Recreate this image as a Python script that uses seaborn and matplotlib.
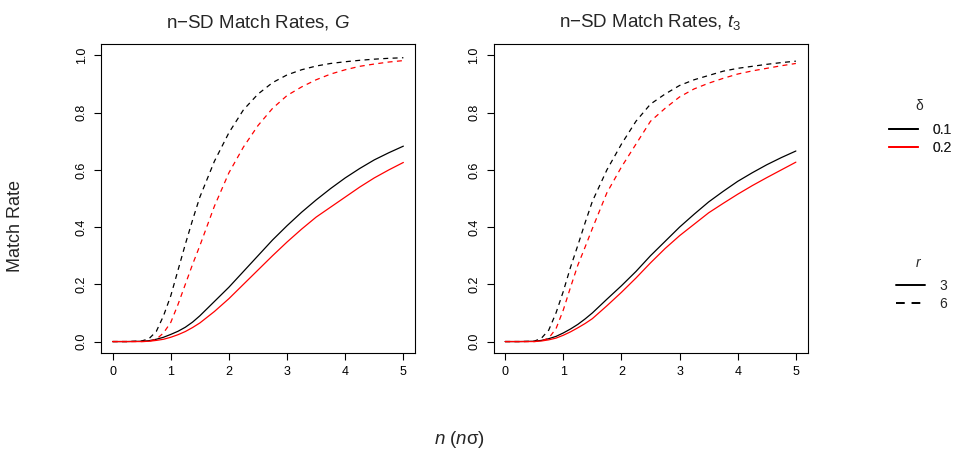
import numpy as np
import pandas as pd
import matplotlib
matplotlib.use("Agg")
import matplotlib.pyplot as plt
from matplotlib.lines import Line2D
import seaborn as sns

# ---- data ----
n_sd = [0, 0.25, 0.5, 0.625, 0.75, 0.875, 1.0, 1.125, 1.25, 1.375, 1.5,
        1.75, 2.0, 2.25, 2.5, 2.75, 3.0, 3.25, 3.5, 3.75, 4.0, 4.25, 4.5,
        4.75, 5.0]

# Panel G
g_d01_r3 = [0, 0, 0.001, 0.003, 0.008, 0.015, 0.025, 0.036, 0.05, 0.068, 0.09,
            0.14, 0.19, 0.245, 0.30, 0.355, 0.405, 0.452, 0.495, 0.535, 0.572,
            0.605, 0.635, 0.66, 0.683]
g_d02_r3 = [0, 0, 0.0, 0.001, 0.004, 0.008, 0.015, 0.024, 0.035, 0.049, 0.065,
            0.105, 0.15, 0.20, 0.25, 0.30, 0.348, 0.393, 0.435, 0.47, 0.505,
            0.54, 0.572, 0.60, 0.626]
g_d01_r6 = [0, 0, 0.002, 0.01, 0.035, 0.09, 0.16, 0.25, 0.34, 0.425, 0.505,
            0.63, 0.73, 0.81, 0.865, 0.905, 0.932, 0.95, 0.963, 0.972, 0.978,
            0.983, 0.987, 0.99, 0.992]
g_d02_r6 = [0, 0, 0.0, 0.001, 0.008, 0.03, 0.067, 0.13, 0.20, 0.27, 0.335,
            0.473, 0.59, 0.68, 0.755, 0.815, 0.86, 0.89, 0.915, 0.935, 0.95,
            0.962, 0.97, 0.977, 0.982]

# Panel t3
t_d01_r3 = [0, 0, 0.001, 0.004, 0.01, 0.018, 0.03, 0.044, 0.06, 0.079, 0.10,
            0.148, 0.195, 0.245, 0.30, 0.35, 0.40, 0.445, 0.488, 0.525, 0.56,
            0.59, 0.618, 0.643, 0.666]
t_d02_r3 = [0, 0, 0.0, 0.002, 0.006, 0.012, 0.022, 0.034, 0.048, 0.063, 0.08,
            0.125, 0.172, 0.222, 0.275, 0.325, 0.37, 0.41, 0.45, 0.483, 0.515,
            0.545, 0.573, 0.60, 0.627]
t_d01_r6 = [0, 0, 0.001, 0.012, 0.04, 0.10, 0.175, 0.26, 0.336, 0.415, 0.49,
            0.60, 0.69, 0.77, 0.83, 0.865, 0.895, 0.915, 0.93, 0.945, 0.955,
            0.962, 0.969, 0.975, 0.98]
t_d02_r6 = [0, 0, 0.0, 0.002, 0.012, 0.045, 0.11, 0.19, 0.267, 0.33, 0.395,
            0.52, 0.61, 0.69, 0.77, 0.815, 0.855, 0.883, 0.903, 0.92, 0.935,
            0.946, 0.955, 0.964, 0.972]

panels = ["G", "t3"]
deltas = ["0.1", "0.2"]
r_values = ["3", "6"]
titles = ["n\u2212SD Match Rates, $G$", "n\u2212SD Match Rates, $t_3$"]
y_ticks = [0.0, 0.2, 0.4, 0.6, 0.8, 1.0]
x_ticks = [0, 1, 2, 3, 4, 5]

series = {
    ("G", "0.1", "3"): g_d01_r3, ("G", "0.2", "3"): g_d02_r3,
    ("G", "0.1", "6"): g_d01_r6, ("G", "0.2", "6"): g_d02_r6,
    ("t3", "0.1", "3"): t_d01_r3, ("t3", "0.2", "3"): t_d02_r3,
    ("t3", "0.1", "6"): t_d01_r6, ("t3", "0.2", "6"): t_d02_r6,
}

rows = []
for (p, d, r), vals in series.items():
    for x, y in zip(n_sd, vals):
        rows.append({"panel": p, "delta": d, "r": r, "n": x, "rate": y})
df = pd.DataFrame(rows)

# ---- styling ----
sns.set_theme(style="ticks")
plt.rcParams["font.family"] = ["Liberation Sans", "DejaVu Sans"]
plt.rcParams["mathtext.fontset"] = "custom"
plt.rcParams["mathtext.rm"] = "Liberation Sans"
plt.rcParams["mathtext.it"] = "Liberation Sans:italic"
plt.rcParams["axes.linewidth"] = 0.8
plt.rcParams["xtick.major.width"] = 0.8
plt.rcParams["ytick.major.width"] = 0.8
plt.rcParams["xtick.major.size"] = 5
plt.rcParams["ytick.major.size"] = 5
plt.rcParams["xtick.color"] = "black"
plt.rcParams["ytick.color"] = "black"
plt.rcParams["axes.edgecolor"] = "black"

palette = {"0.1": "black", "0.2": "#FF0000"}
dash_map = {"3": "", "6": (4, 3.5)}

W, H = 963, 454
fig = plt.figure(figsize=(W / 100, H / 100), dpi=100)
ax_left = [101, 493.5]
axes = []
for i, p in enumerate(panels):
    ax = fig.add_axes([ax_left[i] / W, (H - 353) / H, 314 / W, 309 / H])
    sub = df[df["panel"] == p]
    sns.lineplot(data=sub, x="n", y="rate", hue="delta", style="r",
                 palette=palette, dashes=dash_map, hue_order=deltas,
                 style_order=r_values, estimator=None, legend=False,
                 linewidth=0.9, ax=ax)
    ax.set_xlim(-0.2, 5.2)
    ax.set_ylim(-0.04, 1.04)
    ax.set_xticks(x_ticks)
    ax.set_xticklabels([str(t) for t in x_ticks])
    ax.set_yticks(y_ticks)
    ax.set_yticklabels([f"{t:.1f}" for t in y_ticks])
    ax.tick_params(axis="both", labelsize=9, pad=4.5, direction="out")
    for lab in ax.get_yticklabels():
        lab.set_rotation(90)
        lab.set_va("center")
        lab.set_ha("right")
    ax.set_xlabel("")
    ax.set_ylabel("")
    for s in ax.spines.values():
        s.set_visible(True)
        s.set_color("black")
    ax.set_title(titles[i], fontsize=13.5, pad=12)
    axes.append(ax)

fig.text(16 / W, 1 - 226 / H, "Match Rate", rotation=90, ha="center",
         va="center", fontsize=13)
fig.text(459 / W, 1 - 440 / H, "$n$ ($n$\u03c3)", ha="center", va="center",
         fontsize=13.5)

# legends (titles as separate text so the gap matches the reference)
fig.text(919 / W, 1 - 106 / H, "\u03b4", ha="center", va="center",
         fontsize=10)
fig.text(919 / W, 1 - 263 / H, "$r$", ha="center", va="center", fontsize=10)

h_delta = [Line2D([], [], color=palette[d], lw=1.4) for d in deltas]
leg1 = fig.legend(h_delta, deltas, loc="upper left",
                  bbox_to_anchor=(889 / W, 1 - 123 / H), frameon=False,
                  borderpad=0, borderaxespad=0, handlelength=2.1,
                  handletextpad=1.0, labelspacing=0.3, fontsize=10)
h_r = [Line2D([], [], color="black", lw=1.4, linestyle="-"),
       Line2D([], [], color="black", lw=1.4, dashes=(4.5, 3.5))]
leg2 = fig.legend(h_r, r_values, loc="upper left",
                  bbox_to_anchor=(896 / W, 1 - 278.5 / H), frameon=False,
                  borderpad=0, borderaxespad=0, handlelength=2.1,
                  handletextpad=1.0, labelspacing=0.3, fontsize=10)
fig.add_artist(leg1)

fig.savefig("out.png", dpi=100)
